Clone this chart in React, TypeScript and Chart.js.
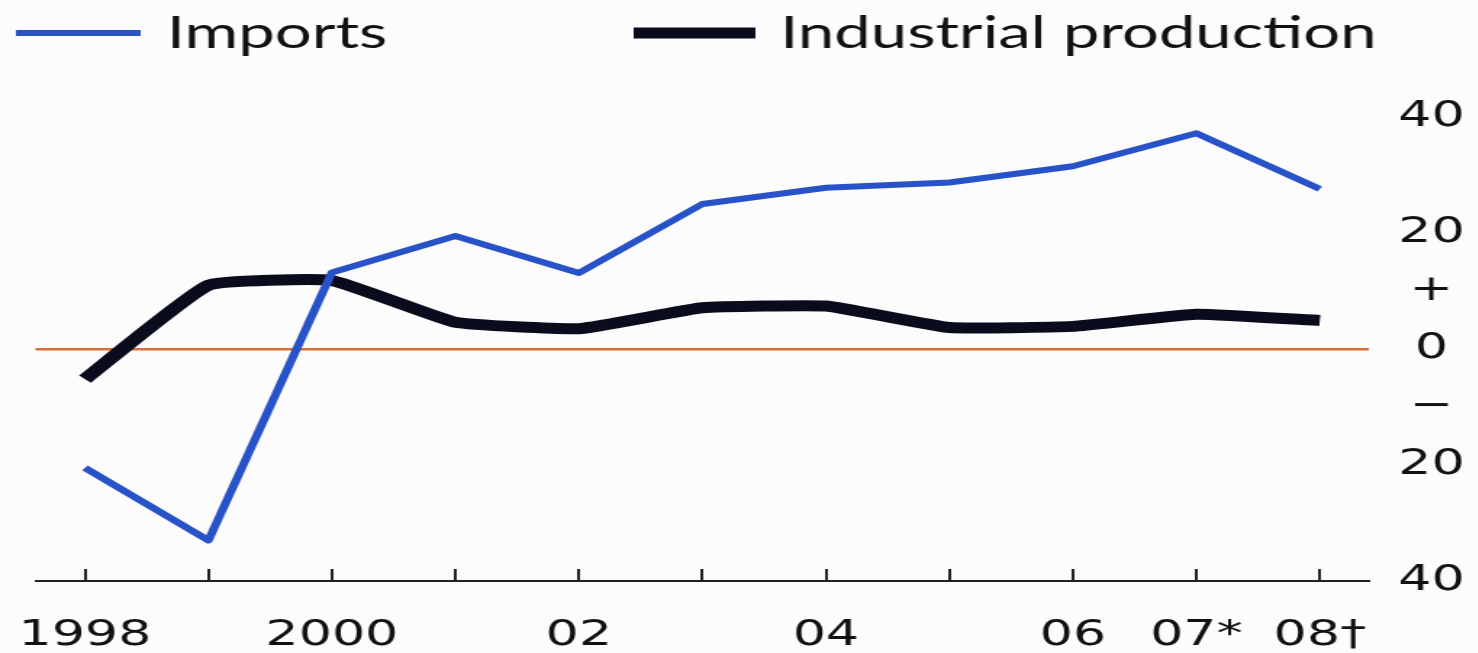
import React, { useEffect, useRef } from 'react';
import { Chart, registerables } from 'chart.js';

Chart.register(...registerables);

// ---- Data ----
const YEARS = [1998, 1999, 2000, 2001, 2002, 2003, 2004, 2005, 2006, 2007, 2008];
const X_TICK_LABELS = ['1998', '', '2000', '', '02', '', '04', '', '06', '07*', '08†'];
const IMPORTS = [-20.5, -33, 13.2, 19.5, 13.1, 25, 27.8, 28.7, 31.5, 37.2, 27.6];
const INDUSTRIAL_PRODUCTION = [-5.2, 11, 11.8, 4.6, 3.5, 7.1, 7.4, 3.7, 3.9, 6.0, 4.9];
const SERIES_NAMES = ['Imports', 'Industrial production'];
const Y_TICKS = [-40, -20, -10, 0, 10, 20, 40];
const Y_TICK_LABELS = ['40', '20', '−', '0', '+', '20', '40'];

// ---- Presentation ----
const PAGE_W = 1478;
const PAGE_H = 653;
const STRETCH = 1.45; // reference is horizontally stretched
const INNER_W = PAGE_W / STRETCH;

const AXIS_FONT = { family: '"DejaVu Sans", Verdana, sans-serif', size: 36 };
const LEGEND_FONT = '45px Lato, "Open Sans", sans-serif';

const legendPlugin = {
  id: 'lineLegend',
  afterDraw(chart: any) {
    const ctx = chart.ctx;
    const layout = [
      { x0: 11, x1: 97, tx: 115 },
      { x0: 437, x1: 521, tx: 538 },
    ];
    ctx.save();
    chart.data.datasets.forEach((ds: any, i: number) => {
      const l = layout[i];
      if (!l) return;
      ctx.beginPath();
      ctx.strokeStyle = ds.borderColor;
      ctx.lineWidth = ds.borderWidth;
      ctx.lineCap = 'butt';
      ctx.moveTo(l.x0, 33);
      ctx.lineTo(l.x1, 33);
      ctx.stroke();
      ctx.font = LEGEND_FONT;
      ctx.fillStyle = '#111';
      ctx.textBaseline = 'alphabetic';
      ctx.textAlign = 'left';
      ctx.fillText(ds.label, l.tx, 48);
    });
    ctx.restore();
  },
};

export default function App() {
  const canvasRef = useRef<HTMLCanvasElement | null>(null);

  useEffect(() => {
    if (!canvasRef.current) return;
    const chart = new Chart(canvasRef.current, {
      type: 'line',
      data: {
        datasets: [
          {
            label: SERIES_NAMES[0],
            data: YEARS.map((y, i) => ({ x: y, y: IMPORTS[i] })),
            borderColor: '#2852c8',
            borderWidth: 6,
            pointRadius: 0,
            tension: 0,
            borderJoinStyle: 'round',
          },
          {
            label: SERIES_NAMES[1],
            data: YEARS.map((y, i) => ({ x: y, y: INDUSTRIAL_PRODUCTION[i] })),
            borderColor: '#0a0c1e',
            borderWidth: 11,
            pointRadius: 0,
            tension: 0.12,
            borderJoinStyle: 'round',
          },
        ],
      },
      options: {
        animation: false,
        responsive: true,
        maintainAspectRatio: false,
        layout: { padding: { top: 117, left: 24.5, right: 0, bottom: 0 } },
        plugins: {
          legend: { display: false },
          tooltip: { enabled: false },
          title: { display: false },
        },
        scales: {
          x: {
            type: 'linear',
            min: 1997.6,
            max: 2008.4,
            offset: false,
            afterFit: (scale: any) => {
              scale.height = 72;
              scale.paddingLeft = 0;
              scale.paddingRight = 0;
            },
            ticks: {
              stepSize: 1,
              includeBounds: false,
              autoSkip: false,
              maxRotation: 0,
              padding: 45,
              color: '#111',
              font: AXIS_FONT,
              callback: (v: any) => {
                const idx = YEARS.indexOf(Math.round(Number(v)));
                return idx >= 0 ? X_TICK_LABELS[idx] : '';
              },
            },
            grid: {
              display: true,
              drawOnChartArea: false,
              drawTicks: true,
              tickLength: -12,
              color: '#222',
              lineWidth: 2,
            },
            border: { display: true, color: '#222', width: 2 },
          },
          y: {
            type: 'linear',
            position: 'right',
            min: -40,
            max: 40,
            afterBuildTicks: (scale: any) => {
              scale.ticks = Y_TICKS.map((v) => ({ value: v }));
            },
            afterFit: (scale: any) => {
              scale.width = 75;
            },
            ticks: {
              autoSkip: false,
              crossAlign: 'center',
              padding: 20,
              color: '#111',
              font: AXIS_FONT,
              callback: (v: any) => {
                const idx = Y_TICKS.indexOf(Number(v));
                return idx >= 0 ? Y_TICK_LABELS[idx] : '';
              },
            },
            grid: {
              drawTicks: false,
              lineWidth: 2.5,
              color: (c: any) => (c.tick && c.tick.value === 0 ? '#d9703a' : 'rgba(0,0,0,0)'),
            },
            border: { display: false },
          },
        },
      },
      plugins: [legendPlugin],
    } as any);
    return () => chart.destroy();
  }, []);

  return (
    <div
      style={{
        position: 'absolute',
        left: 0,
        top: 0,
        width: PAGE_W,
        height: PAGE_H,
        overflow: 'hidden',
        background: '#fcfcfc',
      }}
    >
      <div
        style={{
          position: 'absolute',
          left: 0,
          top: 0,
          width: INNER_W,
          height: PAGE_H,
          transform: `scaleX(${STRETCH})`,
          transformOrigin: '0 0',
        }}
      >
        <canvas ref={canvasRef} />
      </div>
    </div>
  );
}
